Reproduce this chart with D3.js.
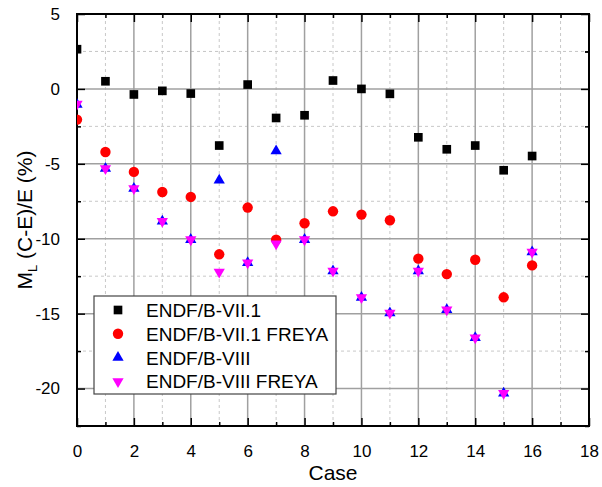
<!DOCTYPE html>
<html>
<head>
<meta charset="utf-8">
<script src="https://cdn.jsdelivr.net/npm/d3@7"></script>
<style>
  body { margin: 0; background: #fff; }
  text { font-family: "Liberation Sans", Arial, sans-serif; }
</style>
</head>
<body>
<script>
// case numbers and the four series
const cases = [0, 1, 2, 3, 4, 5, 6, 7, 8, 9, 10, 11, 12, 13, 14, 15, 16];
const vii1 = [2.65, 0.51, -0.37, -0.13, -0.31, -3.78, 0.29, -1.94, -1.76, 0.56, 0.0, -0.33, -3.23, -4.03, -3.78, -5.43, -4.48];
const vii1Freya = [-2.05, -4.21, -5.54, -6.88, -7.21, -11.04, -7.92, -10.06, -8.97, -8.17, -8.39, -8.77, -11.33, -12.36, -11.40, -13.91, -11.78];
const viii = [-1.04, -5.32, -6.65, -8.84, -10.06, -6.1, -11.6, -4.14, -10.06, -12.16, -13.93, -14.96, -12.16, -14.74, -16.61, -20.31, -10.89];
const viiiFreya = [-1.0, -5.32, -6.65, -8.84, -10.06, -12.22, -11.6, -10.33, -10.06, -12.16, -13.93, -14.96, -12.16, -14.74, -16.61, -20.31, -10.89];
const seriesNames = ["ENDF/B-VII.1", "ENDF/B-VII.1 FREYA", "ENDF/B-VIII", "ENDF/B-VIII FREYA"];
const xTicks = [0, 2, 4, 6, 8, 10, 12, 14, 16, 18];
const yTicks = [5, 0, -5, -10, -15, -20];

const width = 602, height = 487;
const margin = {top: 14, right: 13, bottom: 61, left: 77};

const svg = d3.select("body").append("svg")
    .attr("width", width)
    .attr("height", height);

const x = d3.scaleLinear().domain([0, 18]).range([margin.left, width - margin.right]);
const y = d3.scaleLinear().domain([-22.5, 5]).range([height - margin.bottom, margin.top]);

const x0 = x.range()[0], x1 = x.range()[1];
const y0 = y.range()[0], y1 = y.range()[1];

const xMinor = d3.range(1, 18, 2);
const yMinor = d3.range(-22.5, 5, 5).concat([2.5]);

// minor grid, dashed
svg.append("g").selectAll("line").data(xMinor).join("line")
    .attr("x1", d => x(d)).attr("x2", d => x(d))
    .attr("y1", y0).attr("y2", y1)
    .attr("stroke", "#c8c8c8").attr("stroke-dasharray", "3,3");
svg.append("g").selectAll("line").data(yMinor).join("line")
    .attr("y1", d => y(d)).attr("y2", d => y(d))
    .attr("x1", x0).attr("x2", x1)
    .attr("stroke", "#c8c8c8").attr("stroke-dasharray", "3,3");

// major grid
svg.append("g").selectAll("line").data(xTicks).join("line")
    .attr("x1", d => x(d)).attr("x2", d => x(d))
    .attr("y1", y0).attr("y2", y1)
    .attr("stroke", "#a0a0a0").attr("stroke-width", 1.5);
svg.append("g").selectAll("line").data(yTicks).join("line")
    .attr("y1", d => y(d)).attr("y2", d => y(d))
    .attr("x1", x0).attr("x2", x1)
    .attr("stroke", "#a0a0a0").attr("stroke-width", 1.5);

// axes, ticks pointing inward
function styleAxis(g) {
  g.select(".domain").remove();
  g.selectAll(".tick line").attr("stroke", "#000").attr("stroke-width", 1.5);
  g.selectAll(".tick text").attr("font-size", 17).attr("fill", "#000")
      .attr("font-family", "Liberation Sans, Arial, sans-serif");
}
const fmt = d => d < 0 ? "-" + Math.abs(d) : String(d);

svg.append("g").attr("transform", `translate(0,${y0})`)
    .call(d3.axisBottom(x).tickValues(xTicks).tickSize(-8).tickPadding(19).tickFormat(fmt))
    .call(styleAxis);
svg.append("g").attr("transform", `translate(0,${y0})`)
    .call(d3.axisBottom(x).tickValues(xMinor).tickSize(-4).tickFormat(""))
    .call(styleAxis);
svg.append("g").attr("transform", `translate(0,${y1})`)
    .call(d3.axisTop(x).tickValues(xTicks).tickSize(-8).tickFormat(""))
    .call(styleAxis);
svg.append("g").attr("transform", `translate(0,${y1})`)
    .call(d3.axisTop(x).tickValues(xMinor).tickSize(-4).tickFormat(""))
    .call(styleAxis);
svg.append("g").attr("transform", `translate(${x0},0)`)
    .call(d3.axisLeft(y).tickValues(yTicks).tickSize(-8).tickPadding(17).tickFormat(fmt))
    .call(styleAxis);
svg.append("g").attr("transform", `translate(${x0},0)`)
    .call(d3.axisLeft(y).tickValues(yMinor).tickSize(-4).tickFormat(""))
    .call(styleAxis);
svg.append("g").attr("transform", `translate(${x1},0)`)
    .call(d3.axisRight(y).tickValues(yTicks).tickSize(-8).tickFormat(""))
    .call(styleAxis);
svg.append("g").attr("transform", `translate(${x1},0)`)
    .call(d3.axisRight(y).tickValues(yMinor).tickSize(-4).tickFormat(""))
    .call(styleAxis);

svg.append("rect")
    .attr("x", x0).attr("y", y1)
    .attr("width", x1 - x0).attr("height", y0 - y1)
    .attr("fill", "none").attr("stroke", "#000").attr("stroke-width", 2);

// markers
const styles = [
  {data: vii1, color: "#000", sym: d3.symbolSquare, size: 75, rot: 0},
  {data: vii1Freya, color: "#ff0000", sym: d3.symbolCircle, size: 85, rot: 0},
  {data: viii, color: "#0000ff", sym: d3.symbolTriangle, size: 55, rot: 0},
  {data: viiiFreya, color: "#ff00ff", sym: d3.symbolTriangle, size: 55, rot: 180}
];

const clip = svg.append("clipPath").attr("id", "plotclip")
    .append("rect").attr("x", x0).attr("y", y1).attr("width", x1 - x0).attr("height", y0 - y1);

styles.forEach(s => {
  svg.append("g").attr("clip-path", "url(#plotclip)")
    .selectAll("path").data(cases).join("path")
    .attr("d", d3.symbol().type(s.sym).size(s.size))
    .attr("transform", (c, i) => `translate(${x(c)},${y(s.data[i])}) rotate(${s.rot})`)
    .attr("fill", s.color);
});

// legend
const legend = svg.append("g");
legend.append("rect")
    .attr("x", 94).attr("y", 296).attr("width", 242).attr("height", 98)
    .attr("fill", "#fff").attr("stroke", "#444").attr("stroke-width", 1.2);
styles.forEach((s, i) => {
  const ly = 310 + i * 23.8;
  legend.append("path")
    .attr("d", d3.symbol().type(s.sym).size(s.size)())
    .attr("transform", `translate(118,${ly}) rotate(${s.rot})`)
    .attr("fill", s.color);
  legend.append("text")
    .attr("x", 146).attr("y", ly + 7)
    .attr("font-size", 19)
    .text(seriesNames[i]);
});

// axis titles
svg.append("text")
    .attr("x", (x0 + x1) / 2).attr("y", 480)
    .attr("text-anchor", "middle")
    .attr("font-size", 21)
    .text("Case");

const yt = svg.append("text")
    .attr("transform", `translate(32,${(y0 + y1) / 2}) rotate(-90)`)
    .attr("text-anchor", "middle")
    .attr("font-size", 21);
yt.append("tspan").text("M");
yt.append("tspan").attr("font-size", 13).attr("dy", 5).text("L");
yt.append("tspan").attr("dy", -5).text(" (C-E)/E (%)");
</script>
</body>
</html>
